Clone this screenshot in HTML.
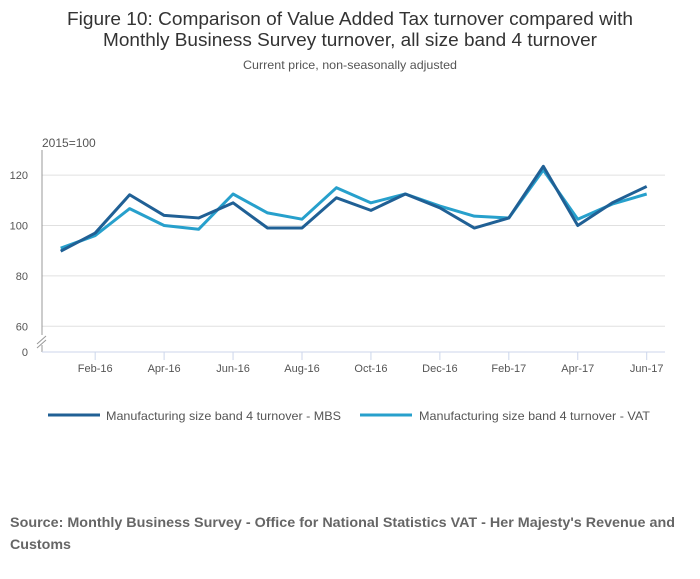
<!DOCTYPE html>
<html><head><meta charset="utf-8"><style>
body{margin:0;background:#fff;width:700px;height:574px;overflow:hidden;font-family:"Liberation Sans",sans-serif}
</style></head><body>
<svg width="700" height="574" font-family="Liberation Sans, sans-serif">
<text x="350" y="25" text-anchor="middle" font-size="18.5" fill="#333" textLength="566" lengthAdjust="spacingAndGlyphs">Figure 10: Comparison of Value Added Tax turnover compared with</text>
<text x="350" y="46" text-anchor="middle" font-size="18.5" fill="#333" textLength="494" lengthAdjust="spacingAndGlyphs">Monthly Business Survey turnover, all size band 4 turnover</text>
<text x="350" y="69" text-anchor="middle" font-size="12" fill="#555" textLength="214" lengthAdjust="spacingAndGlyphs">Current price, non-seasonally adjusted</text>
<text x="42" y="147" font-size="12" fill="#555">2015=100</text>
<g id="grid"></g>
<line x1="42" y1="150" x2="42" y2="352" stroke="#999"/>
<line x1="42" y1="352" x2="665" y2="352" stroke="#ccd6eb"/>
<rect x="36" y="335" width="12" height="10" fill="#fff"/>
<path d="M37 344 L46 336 M37 348 L46 340" stroke="#999" fill="none"/>
<text x="28" y="356" text-anchor="end" font-size="11" fill="#555">0</text>
<g id="ticks"></g>
<g id="series"></g>
<g>
<line x1="48" y1="415" x2="100" y2="415" stroke="#206095" stroke-width="3"/>
<text x="106" y="420" font-size="12" fill="#555" textLength="235" lengthAdjust="spacingAndGlyphs">Manufacturing size band 4 turnover - MBS</text>
<line x1="360" y1="415" x2="412" y2="415" stroke="#27a0cc" stroke-width="3"/>
<text x="419" y="420" font-size="12" fill="#555" textLength="231" lengthAdjust="spacingAndGlyphs">Manufacturing size band 4 turnover - VAT</text>
</g>
<text x="10" y="527" font-size="14" font-weight="bold" fill="#666" textLength="665" lengthAdjust="spacingAndGlyphs">Source: Monthly Business Survey - Office for National Statistics VAT - Her Majesty's Revenue and</text>
<text x="10" y="549" font-size="14" font-weight="bold" fill="#666" textLength="61" lengthAdjust="spacingAndGlyphs">Customs</text>
</svg>
<script>
const categories=["Jan-16","Feb-16","Mar-16","Apr-16","May-16","Jun-16","Jul-16","Aug-16","Sep-16","Oct-16","Nov-16","Dec-16","Jan-17","Feb-17","Mar-17","Apr-17","May-17","Jun-17"];
const mbsValues=[89.8,97,112.2,104,103,109,99,99,111,106,112.5,107,99,103,123.5,100,109,115.5];
const vatValues=[91,96,106.7,100,98.5,112.5,105,102.5,115,109,112.5,107.7,103.7,103,122,102.5,108.5,112.5];
const yTicks=[60,80,100,120];
const xTickLabels=["Feb-16","Apr-16","Jun-16","Aug-16","Oct-16","Dec-16","Feb-17","Apr-17","Jun-17"];
const NS="http://www.w3.org/2000/svg";
function xPos(i){return 60.7+i*(646.7-60.7)/(categories.length-1);}
function yPos(v){return 225.5-(v-100)*2.52;}
const grid=document.getElementById('grid');
yTicks.forEach(t=>{
 const l=document.createElementNS(NS,'line');
 l.setAttribute('x1',42);l.setAttribute('x2',665);l.setAttribute('y1',yPos(t));l.setAttribute('y2',yPos(t));
 l.setAttribute('stroke','#e0e0e0');
 
 
 grid.appendChild(l);
 const tx=document.createElementNS(NS,'text');
 tx.setAttribute('x',28);tx.setAttribute('y',yPos(t)+4);tx.setAttribute('text-anchor','end');
 tx.setAttribute('font-size','11');tx.setAttribute('fill','#555');tx.textContent=t;
 
 
 grid.appendChild(tx);
});
const ticks=document.getElementById('ticks');
xTickLabels.forEach(lab=>{
 const i=categories.indexOf(lab);const x=xPos(i);
 const l=document.createElementNS(NS,'line');
 l.setAttribute('x1',x);l.setAttribute('x2',x);l.setAttribute('y1',352);l.setAttribute('y2',360);
 l.setAttribute('stroke','#ccd6eb');
 
 
 ticks.appendChild(l);
 const tx=document.createElementNS(NS,'text');
 tx.setAttribute('x',x);tx.setAttribute('y',372);tx.setAttribute('text-anchor','middle');
 tx.setAttribute('font-size','11');tx.setAttribute('fill','#555');tx.textContent=lab;
 
 
 ticks.appendChild(tx);
});
const series=document.getElementById('series');
[[vatValues,'#27a0cc','vat-line'],[mbsValues,'#206095','mbs-line']].forEach(([vals,c,n])=>{
 const p=document.createElementNS(NS,'polyline');
 p.setAttribute('points',vals.map((v,i)=>xPos(i)+','+yPos(v)).join(' '));
 p.setAttribute('fill','none');p.setAttribute('stroke',c);p.setAttribute('stroke-width','3');
 p.setAttribute('stroke-linejoin','round');
 
 
 series.appendChild(p);
});
</script>
</body></html>
